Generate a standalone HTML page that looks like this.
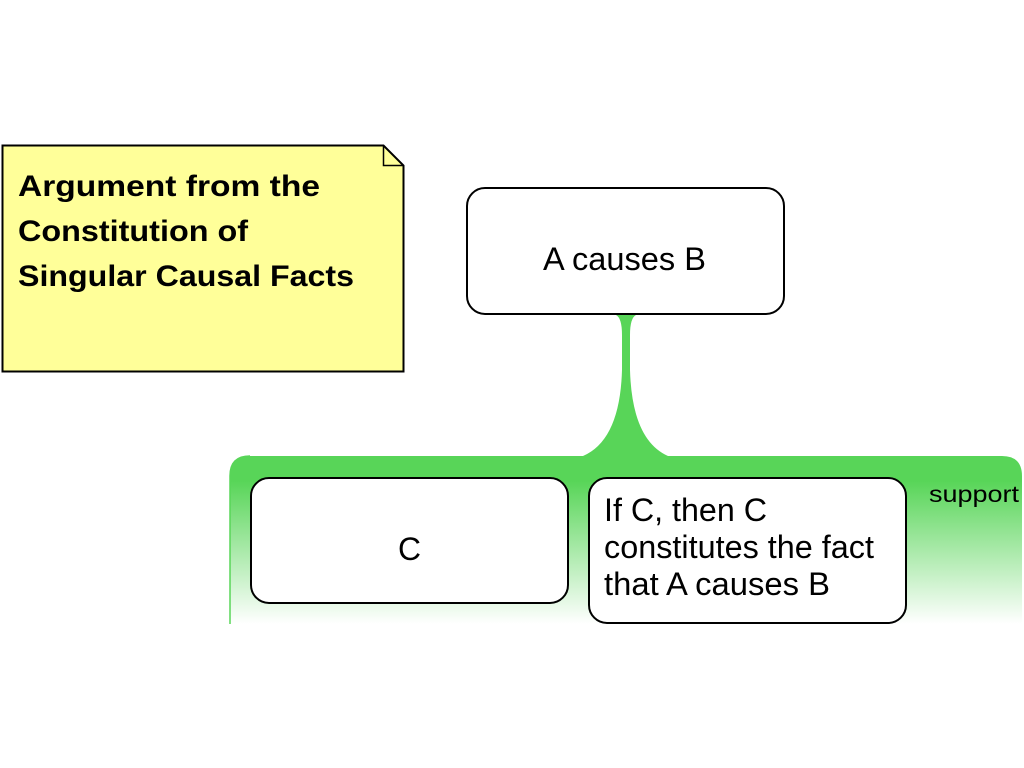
<!DOCTYPE html>
<html><head><meta charset="utf-8"><style>html,body{margin:0;padding:0;background:#fff;}svg{display:block}</style></head>
<body>
<svg width="1024" height="768" viewBox="0 0 1024 768" xmlns="http://www.w3.org/2000/svg">
<defs>
<linearGradient id="g" x1="0" y1="0" x2="0" y2="1">
<stop offset="0" stop-color="#58d558"/>
<stop offset="0.15" stop-color="#58d558"/>
<stop offset="1" stop-color="#ffffff"/>
</linearGradient>
</defs>
<path d="M230 624 L230 476 Q230 456 250 456 L1002 456 Q1022 456 1022 476 L1022 624 Z" fill="url(#g)"/>
<path d="M230 624 L230 476 Q230 456 250 456" fill="none" stroke="#58d558" stroke-width="1.5"/>
<path d="M616 315 Q622 318 622 335 L622 370 Q620 440 583 456 L668 456 Q632 440 630 370 L630 335 Q630 318 636 315 Z" fill="#58d558"/>
<path d="M2.5 145.5 L383.5 145.5 L403.5 165.5 L403.5 371.5 L2.5 371.5 Z" fill="#ffff99" stroke="#000" stroke-width="2"/>
<path d="M383.5 145.5 L383.5 165.5 L403.5 165.5" fill="none" stroke="#000" stroke-width="1.5"/>
<g font-family="'Comic Sans MS','Liberation Sans',sans-serif" font-weight="bold" font-size="30" fill="#000">
<text x="18" y="196" textLength="302" lengthAdjust="spacingAndGlyphs">Argument from the</text>
<text x="18" y="241" textLength="230" lengthAdjust="spacingAndGlyphs">Constitution of</text>
<text x="18" y="286" textLength="336" lengthAdjust="spacingAndGlyphs">Singular Causal Facts</text>
</g>
<rect x="467" y="188" width="317" height="126" rx="18" fill="#fff" stroke="#000" stroke-width="2"/>
<rect x="251" y="478" width="317" height="125" rx="18" fill="#fff" stroke="#000" stroke-width="2"/>
<rect x="589" y="478" width="317" height="145" rx="18" fill="#fff" stroke="#000" stroke-width="2"/>
<g font-family="'Liberation Sans',sans-serif" font-size="32" fill="#000">
<text x="543" y="270" textLength="163" lengthAdjust="spacingAndGlyphs">A causes B</text>
<text x="398" y="560" textLength="23" lengthAdjust="spacingAndGlyphs">C</text>
<text x="604" y="521" textLength="163" lengthAdjust="spacingAndGlyphs">If C, then C</text>
<text x="604" y="558" textLength="270" lengthAdjust="spacingAndGlyphs">constitutes the fact</text>
<text x="604" y="595" textLength="226" lengthAdjust="spacingAndGlyphs">that A causes B</text>
</g>
<text x="929" y="502" font-family="'Liberation Sans',sans-serif" font-size="23" fill="#000" textLength="90" lengthAdjust="spacingAndGlyphs">support</text>
</svg>
</body></html>
